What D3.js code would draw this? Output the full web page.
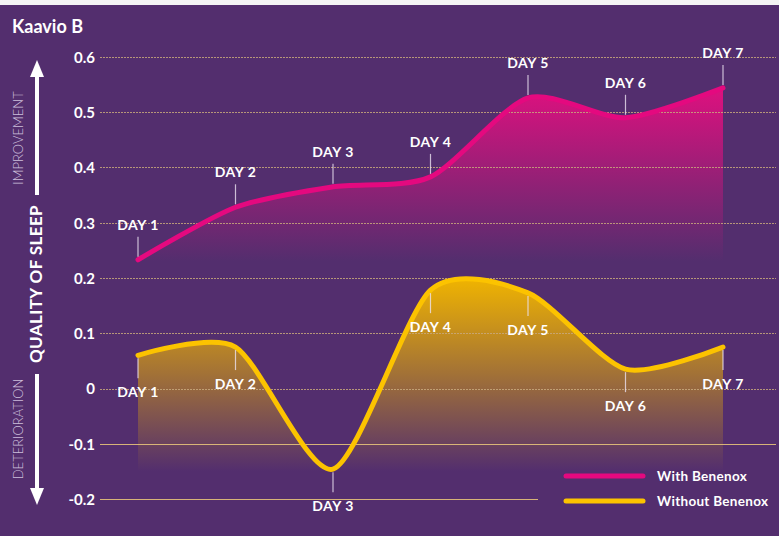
<!DOCTYPE html>
<html><head><meta charset="utf-8">
<script src="https://cdn.jsdelivr.net/npm/d3@7"></script>
<style>
html,body{margin:0;padding:0;background:#532e6e;}
svg{display:block;}
text{font-family:Lato,"Open Sans",sans-serif;}
</style></head>
<body><svg id="chart" width="779" height="536"></svg>
<script>
const title = "Kaavio B";
const days = ["DAY 1","DAY 2","DAY 3","DAY 4","DAY 5","DAY 6","DAY 7"];
const withBenenox = [0.233, 0.328, 0.365, 0.383, 0.526, 0.490, 0.544];
const withoutBenenox = [0.060, 0.075, -0.146, 0.178, 0.173, 0.035, 0.075];
const yTicks = [-0.2, -0.1, 0, 0.1, 0.2, 0.3, 0.4, 0.5, 0.6];
const yTickLabels = ["-0.2","-0.1","0","0.1","0.2","0.3","0.4","0.5","0.6"];
const seriesNames = ["With Benenox","Without Benenox"];
const axisTitle = "QUALITY OF SLEEP";
const upLabel = "IMPROVEMENT";
const downLabel = "DETERIORATION";

const W = 779, H = 536;
const pink = "#e4097f", gold = "#fcc300", bg = "#532e6e";
const svg = d3.select("#chart");

svg.append("rect").attr("width", W).attr("height", H).attr("fill", bg);
svg.append("rect").attr("width", W).attr("height", 5).attr("fill", "#f4f4f4");

const x = d3.scalePoint().domain(days).range([138, 723]);
const y = d3.scaleLinear().domain([-0.2, 0.6]).range([499, 57]);

const defs = svg.append("defs");
function grad(id, color, top, bottom, op){
  const g = defs.append("linearGradient").attr("id", id)
    .attr("gradientUnits","userSpaceOnUse")
    .attr("x1",0).attr("x2",0).attr("y1", y(top)).attr("y2", y(bottom));
  g.append("stop").attr("offset","0").attr("stop-color",color).attr("stop-opacity",op);
  g.append("stop").attr("offset","1").attr("stop-color",color).attr("stop-opacity",0);
}
grad("gPink", "#e0107f", 0.55, 0.23, 1);
grad("gGold", "#f0b400", 0.20, -0.15, 1);

const curve = d3.curveCardinal.tension(0.25);
const pData = days.map((d,i)=>({d, v: withBenenox[i]}));
const gData = days.map((d,i)=>({d, v: withoutBenenox[i]}));

const area = (base) => d3.area().x(p=>x(p.d)).y0(y(base)).y1(p=>y(p.v)).curve(curve);
svg.append("path").datum(pData).attr("d", area(0.22)).attr("fill","url(#gPink)");
svg.append("path").datum(gData).attr("d", area(-0.16)).attr("fill","url(#gGold)");

// gridlines
svg.append("g").selectAll("line").data(yTicks).join("line")
  .attr("x1", 100).attr("x2", d => d === -0.2 ? 538 : 776)
  .attr("y1", d => Math.round(y(d)) + 0.5).attr("y2", d => Math.round(y(d)) + 0.5)
  .attr("stroke", d => d < 0 ? "#e6c27a" : "#c9a97c")
  .attr("stroke-width", 1)
  .attr("stroke-dasharray", d => d < 0 ? null : "2,1")
  .attr("opacity", d => d < 0 ? 0.9 : 0.85);

// y axis labels
const yAxis = d3.axisLeft(y).tickValues(yTicks).tickSize(0).tickPadding(0)
  .tickFormat((d,i)=>yTickLabels[i]);
const ag = svg.append("g").attr("transform","translate(95,0)").call(yAxis);
ag.select(".domain").remove();
ag.selectAll("text").attr("fill","#ffffff").attr("font-size",15).attr("font-weight","bold")
  .attr("font-family","Lato, sans-serif").attr("dy","0.36em");

// lines
const line = d3.line().x(p=>x(p.d)).y(p=>y(p.v)).curve(curve);
svg.append("path").datum(pData).attr("d", line).attr("fill","none")
  .attr("stroke", pink).attr("stroke-width",5).attr("stroke-linecap","round");
svg.append("path").datum(gData).attr("d", line).attr("fill","none")
  .attr("stroke", gold).attr("stroke-width",5).attr("stroke-linecap","round");

// day markers
const tickCol = "rgba(235,225,240,0.8)";
const lblSize = 14, lblSpacing = 0.5;
svg.append("g").selectAll("line").data(pData).join("line")
  .attr("x1", p=>x(p.d)).attr("x2", p=>x(p.d))
  .attr("y1", p=>y(p.v)-23).attr("y2", p=>y(p.v)-3)
  .attr("stroke", tickCol).attr("stroke-width",1.2);
svg.append("g").selectAll("text").data(pData).join("text")
  .attr("x", p=>x(p.d)).attr("y", p=>y(p.v)-30)
  .attr("text-anchor","middle").attr("fill","#fff").attr("font-size",lblSize).attr("font-weight","bold")
  .attr("letter-spacing",lblSpacing)
  .text(p=>p.d);
svg.append("g").selectAll("line").data(gData).join("line")
  .attr("x1", p=>x(p.d)).attr("x2", p=>x(p.d))
  .attr("y1", p=>y(p.v)+3).attr("y2", p=>y(p.v)+23)
  .attr("stroke", tickCol).attr("stroke-width",1.2);
svg.append("g").selectAll("text").data(gData).join("text")
  .attr("x", p=>x(p.d)).attr("y", p=>y(p.v)+42)
  .attr("text-anchor","middle").attr("fill","#fff").attr("font-size",lblSize).attr("font-weight","bold")
  .attr("letter-spacing",lblSpacing)
  .text(p=>p.d);

// title
svg.append("text").attr("x",12).attr("y",33).attr("fill","#fff")
  .attr("font-size",18).attr("font-weight","bold").text(title);

// left axis annotations
svg.append("text").attr("transform","translate(42,284) rotate(-90)")
  .attr("text-anchor","middle").attr("fill","#fff").attr("font-size",17).attr("font-weight","bold")
  .attr("letter-spacing",0.4)
  .text(axisTitle);
svg.append("text").attr("transform","translate(23,138) rotate(-90)")
  .attr("text-anchor","middle").attr("fill","#cdbfdc").attr("font-size",13).attr("font-weight",300)
  .text(upLabel);
svg.append("text").attr("transform","translate(23,429) rotate(-90)")
  .attr("text-anchor","middle").attr("fill","#cdbfdc").attr("font-size",13).attr("font-weight",300)
  .text(downLabel);

// arrows
svg.append("rect").attr("x",35).attr("y",74).attr("width",4).attr("height",121).attr("fill","#fff");
svg.append("path").attr("d","M37,60 L44,77 L30,77 Z").attr("fill","#fff");
svg.append("rect").attr("x",35).attr("y",374).attr("width",4).attr("height",117).attr("fill","#fff");
svg.append("path").attr("d","M37,505 L44,488 L30,488 Z").attr("fill","#fff");

// legend
const leg = svg.append("g");
[pink, gold].forEach((c,i)=>{
  const ly = 476 + i*25;
  leg.append("line").attr("x1",566).attr("x2",643).attr("y1",ly).attr("y2",ly)
    .attr("stroke",c).attr("stroke-width",5).attr("stroke-linecap","round");
  leg.append("text").attr("x",657).attr("y",ly+5).attr("fill","#fff")
    .attr("font-size",13.5).attr("font-weight","bold").attr("letter-spacing",0.3).text(seriesNames[i]);
});
</script></body></html>
